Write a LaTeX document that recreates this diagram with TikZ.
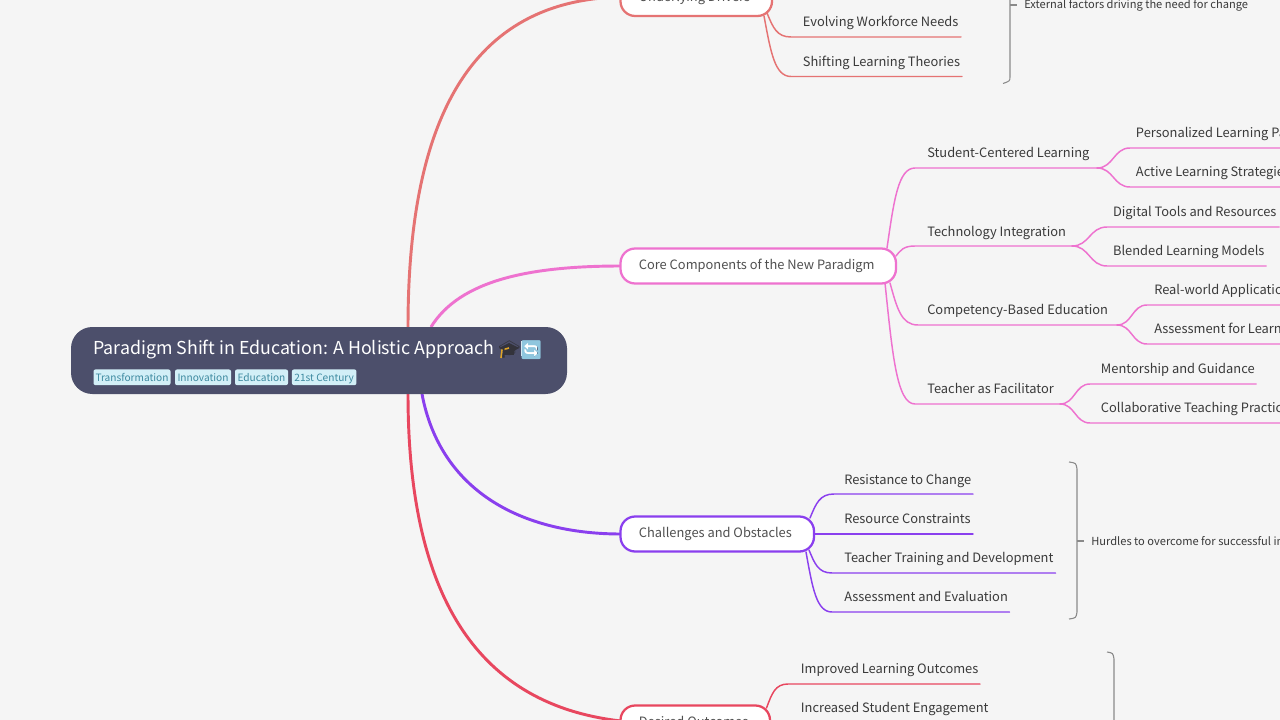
\documentclass[tikz,border=0pt]{standalone}
\usepackage{fontspec}
\usetikzlibrary{calc}
\setmainfont{Noto Sans CJK SC}
\newfontfamily\emojifont{Noto Emoji}
\definecolor{bgc}{HTML}{F5F5F5}
\definecolor{rootc}{HTML}{4C4F6B}
\definecolor{tagbg}{HTML}{D2EFF7}
\definecolor{tagfg}{HTML}{3E8AA0}
\definecolor{txt}{HTML}{3A3A3A}
\definecolor{toptxt}{HTML}{505050}
\definecolor{cone}{HTML}{E57373}
\definecolor{ctwo}{HTML}{EE72CF}
\definecolor{cthree}{HTML}{8A3FEE}
\definecolor{cfour}{HTML}{E8475F}
\definecolor{brk}{HTML}{8A8A8A}
\definecolor{capc}{HTML}{33333B}
\definecolor{tasc}{HTML}{E0A526}
\definecolor{repc}{HTML}{8FC6DE}
\tikzset{
 x=0.75pt,y=-0.75pt,
 lab/.style={anchor=base west,inner sep=0pt,yshift=-0.6pt,font=\fontsize{9.65pt}{12pt}\selectfont,text=txt},
 toplab/.style={lab,text=toptxt},
 small/.style={anchor=base west,inner sep=0pt,font=\fontsize{8.33pt}{10pt}\selectfont,text=txt},
 tag/.style={fill=tagbg,text=tagfg,rounded corners=1.5pt,inner sep=0pt,outer sep=0pt,anchor=center,text height=6.5pt,text depth=0pt,minimum height=15.7*0.75pt,font=\fontsize{7.6pt}{10pt}\selectfont},
 branch/.style={draw=#1,line width=1.1pt,line cap=round},
 main/.style={draw=#1,line width=2.2pt},
 brace/.style={draw=brk,line width=0.8pt},
}
\newcommand{\topicbox}[6]{% name, x0,y0,x1,y1,colour
 \node[draw=#6,line width=1.7pt,fill=white,rounded corners=11pt,inner sep=0pt,outer sep=0pt,minimum width=#4*0.75pt-#2*0.75pt,minimum height=#5*0.75pt-#3*0.75pt,anchor=north west] (#1) at (#2,#3) {};}
% name, sx,sy, tx,ty, end x, colour : child branch curving out of a topic
\newcommand{\kid}[7]{%
 \coordinate (#1s) at (#2,#3); \coordinate (#1t) at (#4,#5); \coordinate (#1e) at (#6,#5);
 \draw[branch=#7] (#1s) .. controls ({#2+0.25*(#4-#2)},{#3+0.6*(#5-#3)}) and ({#2+0.4*(#4-#2)},#5) .. (#1t) -- (#1e);}
% same arguments : S-curve leaving an underline
\newcommand{\sig}[7]{%
 \coordinate (#1s) at (#2,#3); \coordinate (#1t) at (#4,#5); \coordinate (#1e) at (#6,#5);
 \draw[branch=#7] (#1s) .. controls ({#2+0.5*(#4-#2)},#3) and ({#2+0.5*(#4-#2)},#5) .. (#1t) -- (#1e);}
\begin{document}
\begin{tikzpicture}
\useasboundingbox (0,0) rectangle (1280,720);
\fill[bgc] (0,0) rectangle (1280,720);
% main curves
\coordinate (r1) at (408,327); \coordinate (r2) at (408,394);
\coordinate (r3) at (431,327); \coordinate (r4) at (422,394);
\coordinate (ma) at (621,-3); \coordinate (mb) at (621,266);
\coordinate (mc) at (621,534); \coordinate (md) at (621,721);
\draw[main=cone] (r1) .. controls (408,120) and (470,0) .. (ma);
\draw[main=ctwo] (r3) .. controls (460,280) and (530,266) .. (mb);
\draw[main=cthree] (r4) .. controls (440,490) and (520,534) .. (mc);
\draw[main=cfour] (r2) .. controls (408,600) and (480,705) .. (md);
% root
\node[fill=rootc,rounded corners=16pt,inner sep=0pt,outer sep=0pt,minimum width=496*0.75pt,minimum height=67*0.75pt,anchor=north west] (root) at (71,327) {};
\node[anchor=base west,inner sep=0pt,text=white,font=\fontsize{13.35pt}{16pt}\selectfont] (title) at (93,354) {Paradigm Shift in Education: A Holistic Approach};
% cap icon
\fill[capc] (499,348) -- (509,343) -- (519,348) -- (509,353) -- cycle;
\fill[capc] (504,351) -- (514,351) -- (514,355) -- (504,355) -- cycle;
\draw[tasc,line width=1.2pt] (509,348) -- (502,350) -- (501,358);
\node[anchor=base west,inner sep=0pt,text=capc,font=\emojifont\fontsize{13pt}{16pt}\selectfont] (emojia) at (498,355) {🎓};
% repeat icon
\fill[white] (521,341) rectangle (537,356);
\node[anchor=base west,inner sep=0pt,text=repc,font=\emojifont\fontsize{14pt}{16pt}\selectfont] (emojib) at (519,356) {🔄};
\node[tag,minimum width=77*0.75pt] (t1) at (132,377.3) {Transformation};
\node[tag,minimum width=56*0.75pt] (t2) at (203,377.3) {Innovation};
\node[tag,minimum width=53*0.75pt] (t3) at (261.5,377.3) {Education};
\node[tag,minimum width=64.5*0.75pt] (t4) at (324.2,377.3) {21st Century};
% a children
\kid{a1}{767}{13}{791}{37}{961}{cone}
\kid{a2}{764}{16}{791}{76.5}{962}{cone}
% b children
\kid{b1}{887}{248}{915}{168}{1097}{ctwo}
\kid{b2}{896}{256}{915}{246}{1072}{ctwo}
\kid{b3}{890}{283}{918}{325}{1117}{ctwo}
\kid{b4}{885}{283}{915}{404}{1060}{ctwo}
\sig{b11}{1097}{168}{1130}{148}{1290}{ctwo}
\sig{b12}{1097}{168}{1130}{187}{1290}{ctwo}
\sig{b21}{1072}{246}{1107}{227}{1279}{ctwo}
\sig{b22}{1072}{246}{1107}{266}{1266}{ctwo}
\sig{b31}{1117}{325}{1147}{305}{1290}{ctwo}
\sig{b32}{1117}{325}{1147}{344}{1290}{ctwo}
\sig{b41}{1060}{404}{1090}{384}{1256}{ctwo}
\sig{b42}{1060}{404}{1090}{423}{1290}{ctwo}
% c children
\kid{c1}{810}{518}{834}{494}{973}{cthree}
\coordinate (c2s) at (814,534.1); \coordinate (c2e) at (973,534.1);
\draw[branch=cthree] (c2s) -- (c2e);
\kid{c3}{809}{550}{832}{573}{1055.5}{cthree}
\kid{c4}{806}{552}{832}{612}{1009.5}{cthree}
% d children
\kid{d1}{766.5}{708}{788}{684}{980}{cfour}
% topics
\topicbox{a}{620.5}{-20}{772}{16}{cone}
\topicbox{b}{620.5}{248.5}{896}{283.5}{ctwo}
\topicbox{c}{620.5}{516.5}{814}{551.5}{cthree}
\topicbox{d}{620.5}{705.5}{770}{741}{cfour}
\node[toplab] (la) at (638.6,1) {Underlying Drivers};
\node[toplab] (lb) at (638.6,268.5) {Core Components of the New Paradigm};
\node[toplab] (lc) at (638.6,536.5) {Challenges and Obstacles};
\node[toplab] (ld) at (638.6,725.5) {Desired Outcomes};
\node[lab] (la1) at (802.7,26.2) {Evolving Workforce Needs};
\node[lab] (la2) at (802.7,65.5) {Shifting Learning Theories};
\node[lab] (lb1) at (927,156.5) {Student-Centered Learning};
\node[lab] (lb2) at (927,235.3) {Technology Integration};
\node[lab] (lb3) at (927,313.7) {Competency-Based Education};
\node[lab] (lb4) at (927,392.5) {Teacher as Facilitator};
\node[lab] (lb11) at (1135.7,137) {Personalized Learning Paths};
\node[lab] (lb12) at (1135.7,176) {Active Learning Strategies};
\node[lab] (lb21) at (1112.8,215.3) {Digital Tools and Resources};
\node[lab] (lb22) at (1112.8,254.5) {Blended Learning Models};
\node[lab] (lb31) at (1154,293.7) {Real-world Applications};
\node[lab] (lb32) at (1154,332.7) {Assessment for Learning};
\node[lab] (lb41) at (1100.7,372.5) {Mentorship and Guidance};
\node[lab] (lb42) at (1100.7,411.7) {Collaborative Teaching Practices};
\node[lab] (lc1) at (844,483.3) {Resistance to Change};
\node[lab] (lc2) at (844,522.5) {Resource Constraints};
\node[lab] (lc3) at (844,561.7) {Teacher Training and Development};
\node[lab] (lc4) at (844,600.7) {Assessment and Evaluation};
\node[lab] (ld1) at (800.7,672.7) {Improved Learning Outcomes};
\node[lab] (ld2) at (800.7,711.7) {Increased Student Engagement};
% braces
\draw[brace] (1010,-20) -- (1010,76.5) .. controls (1010,81) .. (1003,83.5);
\draw[brace] (1010,5) -- (1017,5);
\node[small] (na) at (1024,9) {External factors driving the need for change};
\draw[brace] (1069,462) .. controls (1076,463) .. (1077,469) -- (1077,612) .. controls (1076,618) .. (1069,619);
\draw[brace] (1077,541) -- (1084,541);
\node[small] (nc) at (1091,545) {Hurdles to overcome for successful implementation};
\draw[brace] (1107,652) .. controls (1113,653) .. (1114,659) -- (1114,725);
\end{tikzpicture}
\end{document}
